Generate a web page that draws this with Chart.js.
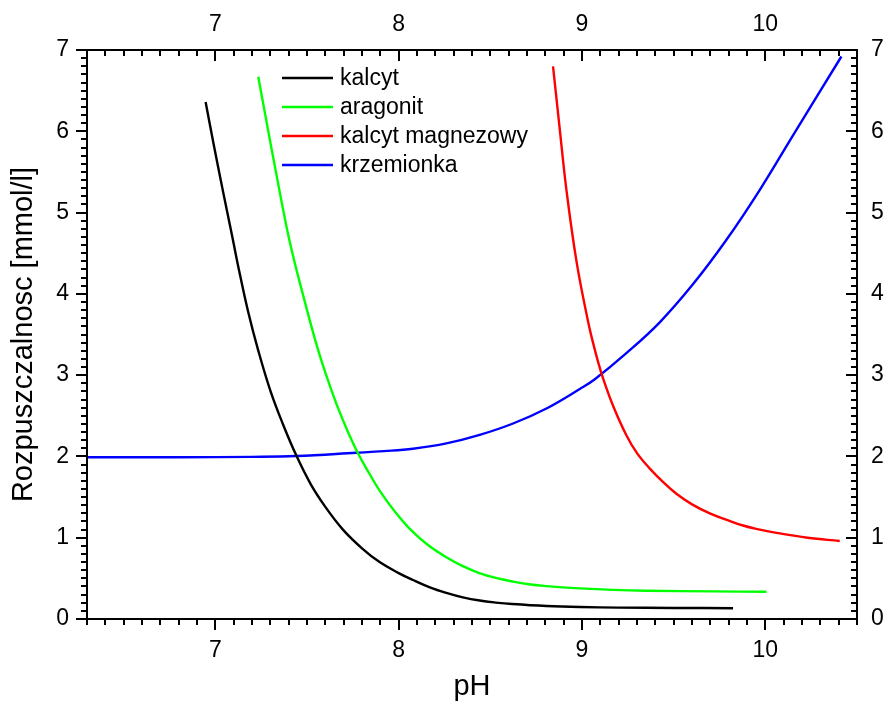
<!DOCTYPE html>
<html><head><meta charset="utf-8">
<script src="https://cdn.jsdelivr.net/npm/chart.js@4/dist/chart.umd.min.js"></script>
<style>html,body{margin:0;padding:0;background:#fff;} #wrap{width:884px;height:706px;}</style>
</head><body><div id="wrap"><canvas id="c" width="884" height="706"></canvas></div>
<script>
// ---- data ----
const seriesNames = ['kalcyt', 'aragonit', 'kalcyt magnezowy', 'krzemionka'];

const kalcytPH  = [6.947, 6.99, 7.041, 7.09, 7.133, 7.18, 7.232, 7.30, 7.37, 7.442, 7.52, 7.60, 7.696, 7.80, 7.896, 8.0, 8.078, 8.17, 8.26, 8.35, 8.442, 8.53, 8.62, 8.806, 8.99, 9.2, 9.5, 9.824];
const kalcytVal = [6.36, 5.85, 5.27, 4.73, 4.25, 3.77, 3.32, 2.81, 2.39, 2.01, 1.66, 1.38, 1.10, 0.87, 0.70, 0.565, 0.48, 0.39, 0.322, 0.267, 0.227, 0.202, 0.184, 0.16, 0.147, 0.14, 0.136, 0.133];

const aragonitPH  = [7.234, 7.28, 7.333, 7.405, 7.478, 7.55, 7.60, 7.66, 7.72, 7.778, 7.84, 7.896, 7.98, 8.069, 8.16, 8.26, 8.35, 8.44, 8.53, 8.624, 8.71, 8.806, 8.988, 9.17, 9.35, 9.715, 10.006];
const aragonitVal = [6.67, 6.11, 5.47, 4.65, 3.99, 3.39, 3.03, 2.65, 2.32, 2.04, 1.79, 1.58, 1.32, 1.09, 0.91, 0.76, 0.65, 0.565, 0.505, 0.46, 0.428, 0.405, 0.377, 0.358, 0.348, 0.34, 0.335];

const magnezowyPH  = [8.842, 8.878, 8.915, 8.97, 9.033, 9.06, 9.087, 9.115, 9.17, 9.242, 9.30, 9.37, 9.44, 9.515, 9.60, 9.697, 9.79, 9.878, 9.97, 10.06, 10.23, 10.406];
const magnezowyVal = [6.80, 6.04, 5.28, 4.40, 3.66, 3.40, 3.17, 2.96, 2.62, 2.26, 2.04, 1.85, 1.69, 1.54, 1.41, 1.30, 1.22, 1.15, 1.10, 1.06, 1.00, 0.96];

const krzemionkaPH  = [6.30, 6.805, 7.2, 7.442, 7.77, 7.92, 8.078, 8.26, 8.442, 8.624, 8.806, 8.988, 9.07, 9.242, 9.424, 9.606, 9.788, 9.97, 10.151, 10.415];
const krzemionkaVal = [1.99, 1.99, 1.995, 2.005, 2.045, 2.065, 2.095, 2.16, 2.265, 2.405, 2.59, 2.83, 2.95, 3.27, 3.65, 4.12, 4.665, 5.28, 5.95, 6.92];

const xTickValues = [7, 8, 9, 10];
const yTickValues = [0, 1, 2, 3, 4, 5, 6, 7];
const xRange = [6.3, 10.5];
const yRange = [0, 7];
const xTitle = 'pH';
const yTitle = 'Rozpuszczalnosc [mmol/l]';

// ---- styles ----
const colors = ['#000000', '#00ff00', '#ff0000', '#0000ff'];
const FONT = 'Liberation Sans, Arial, Helvetica, sans-serif';

function pts(xs, ys) { return xs.map((x, i) => ({x: x, y: ys[i]})); }
const seriesData = [
  pts(kalcytPH, kalcytVal),
  pts(aragonitPH, aragonitVal),
  pts(magnezowyPH, magnezowyVal),
  pts(krzemionkaPH, krzemionkaVal)
];

const datasets = seriesData.map((d, i) => ({
  label: seriesNames[i],
  data: d,
  showLine: true,
  borderColor: colors[i],
  backgroundColor: colors[i],
  borderWidth: 2.4,
  pointRadius: 0,
  tension: 0.4,
  fill: false,
  xAxisID: 'x',
  yAxisID: 'y'
}));

const tickFont = {family: FONT, size: 23};
const titleFont = {family: FONT, size: 29};

function axis(pos, range, tickVals, size, pad, title) {
  const horiz = (pos === 'top' || pos === 'bottom');
  return {
    type: 'linear',
    position: pos,
    display: true,
    min: range[0],
    max: range[1],
    afterBuildTicks: s => { s.ticks = tickVals.map(v => ({value: v})); },
    afterFit: s => { if (horiz) s.height = size; else s.width = size; },
    grid: {display: false, drawTicks: false},
    border: {display: false},
    ticks: {font: tickFont, color: '#000', padding: pad, maxRotation: 0, autoSkip: false,
            callback: v => String(v)},
    title: title ? {display: true, text: title, font: titleFont, color: '#000', padding: {top: 7, bottom: 2}} : {display: false}
  };
}

const frameTicks = {
  id: 'frameTicks',
  afterDraw(chart) {
    const ctx = chart.ctx;
    const {left, right, top, bottom} = chart.chartArea;
    const sx = chart.scales.x, sy = chart.scales.y;
    ctx.save();
    ctx.strokeStyle = '#000';
    ctx.lineWidth = 2;
    ctx.lineCap = 'butt';
    ctx.beginPath();
    // x ticks: bottom outward, top inward
    for (let i = Math.ceil(xRange[0] * 10 - 1e-6); i <= Math.floor(xRange[1] * 10 + 1e-6); i++) {
      const px = Math.round(sx.getPixelForValue(i / 10));
      const len = (i % 10 === 0) ? 11 : 6;
      ctx.moveTo(px, bottom); ctx.lineTo(px, bottom + len);
      ctx.moveTo(px, top); ctx.lineTo(px, top + len);
    }
    // y ticks: left outward, right inward
    for (let i = Math.ceil(yRange[0] * 10 - 1e-6); i <= Math.floor(yRange[1] * 10 + 1e-6); i++) {
      const py = Math.round(sy.getPixelForValue(i / 10));
      const len = (i % 10 === 0) ? 11 : 6;
      ctx.moveTo(left, py); ctx.lineTo(left - len, py);
      ctx.moveTo(right, py); ctx.lineTo(right - len, py);
    }
    ctx.stroke();
    ctx.strokeRect(left, top, right - left, bottom - top);

    // legend
    ctx.font = '23px ' + FONT;
    ctx.textBaseline = 'middle';
    ctx.textAlign = 'left';
    chart.data.datasets.forEach((ds, i) => {
      const y = 78 + i * 29;
      ctx.strokeStyle = ds.borderColor;
      ctx.lineWidth = 2.4;
      ctx.beginPath();
      ctx.moveTo(282, y); ctx.lineTo(333, y);
      ctx.stroke();
      ctx.fillStyle = '#000';
      ctx.fillText(ds.label, 340, y + 1);
    });
    ctx.restore();
  }
};

new Chart(document.getElementById('c'), {
  type: 'scatter',
  data: {datasets: datasets},
  options: {
    responsive: false,
    animation: false,
    devicePixelRatio: 1,
    layout: {padding: 0},
    plugins: {legend: {display: false}, tooltip: {enabled: false}},
    scales: {
      x: axis('bottom', xRange, xTickValues, 87, 18, xTitle),
      x2: axis('top', xRange, xTickValues, 50, 12, null),
      y: axis('left', yRange, yTickValues, 87, 18, yTitle),
      y2: axis('right', yRange, yTickValues, 27, 14, null)
    }
  },
  plugins: [frameTicks]
});
</script>
</body></html>
